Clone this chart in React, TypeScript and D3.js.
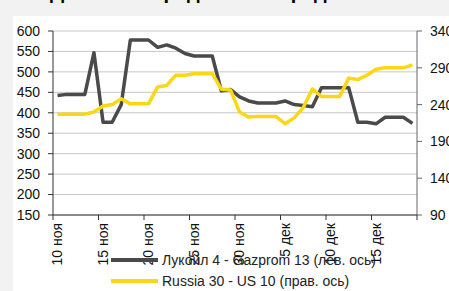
import { line, range, scaleBand, scaleLinear } from 'd3';

const width = 449;
const height = 291;
const plot = { left: 53, right: 417, top: 31, bottom: 215 };

// daily points, 10 ноя .. 19 дек
const lukoilGazprom = [
	442, 445, 445, 445, 547, 377, 377, 420, 578, 578, 578, 560, 566, 558, 545,
	539, 539, 539, 454, 457, 439, 429, 424, 424, 424, 429, 420, 418, 415, 461,
	461, 461, 461, 377, 377, 373, 389, 389, 389, 374,
];
const russiaUs = [
	227, 227, 227, 227, 230, 238, 240, 248, 241, 241, 241, 264, 266, 280, 280,
	282, 282, 282, 261, 260, 230, 223, 224, 224, 224, 214, 222, 236, 261, 251,
	251, 251, 276, 274, 280, 288, 290, 290, 290, 294,
];
const tickLabels = [
	'10 ноя', '15 ноя', '20 ноя', '25 ноя', '30 ноя', '5 дек', '10 дек', '15 дек',
];
const leftTicks = [150, 200, 250, 300, 350, 400, 450, 500, 550, 600];
const rightTicks = [90, 140, 190, 240, 290, 340];
const seriesNames = ['Лукойл 4 - Gazprom 13 (лев. ось)', 'Russia 30 - US 10 (прав. ось)'];

const font = '"Liberation Sans", Arial, sans-serif';
const grayColor = '#4a4a4a';
const yellowColor = '#fcd716';

const App = () => {
	const idx = range(lukoilGazprom.length);
	const xScale = scaleBand<number>().domain(idx).range([plot.left, plot.right]);
	const bw = xScale.bandwidth();
	const xc = (i: number) => (xScale(i) as number) + bw / 2;
	const yLeft = scaleLinear().domain([150, 600]).range([plot.bottom, plot.top]);
	const yRight = scaleLinear().domain([90, 340]).range([plot.bottom, plot.top]);

	const grayPath = line<number>()
		.x((_, i) => xc(i))
		.y(d => yLeft(d))(lukoilGazprom) || '';
	const yellowPath = line<number>()
		.x((_, i) => xc(i))
		.y(d => yRight(d))(russiaUs) || '';

	const tickIdx = tickLabels.map((_, k) => k * 5);

	return (
		<svg
			width={width}
			height={height}
			style={{ position: 'absolute', left: 0, top: 0 }}
			fontFamily={font}
		>
			<rect width={width} height={height} fill="#f2f2f2" />
			<rect x={13} y={16} width={width - 13} height={height - 16} fill="#fff" />
			<text x={50} y={-1} fontSize={20} fontWeight="bold" fill="#000">
				Динамика кредитных спредов
			</text>

			{/* grid */}
			{leftTicks.map(t => (
				<line
					key={t}
					x1={plot.left}
					x2={plot.right}
					y1={yLeft(t)}
					y2={yLeft(t)}
					stroke="#c6c6c6"
				/>
			))}

			{/* left axis */}
			<line x1={plot.left} x2={plot.left} y1={plot.top} y2={plot.bottom} stroke="#333" />
			{leftTicks.map(t => (
				<g key={t} transform={`translate(0,${yLeft(t)})`}>
					<line x1={plot.left - 5} x2={plot.left} stroke="#333" />
					<text x={40} dy=".35em" textAnchor="end" fontSize={14} fill="#111">
						{t}
					</text>
				</g>
			))}

			{/* right axis */}
			<line x1={plot.right} x2={plot.right} y1={plot.top} y2={plot.bottom} stroke="#666" />
			{rightTicks.map(t => (
				<g key={t} transform={`translate(0,${yRight(t)})`}>
					<line x1={plot.right} x2={plot.right + 5} stroke="#666" />
					<text x={430} dy=".35em" fontSize={14} fill="#111">
						{t}
					</text>
				</g>
			))}

			{/* bottom axis */}
			<line x1={plot.left} x2={plot.right} y1={plot.bottom} y2={plot.bottom} stroke="#333" />
			{[...tickIdx, idx.length].map(i => {
				const x = i < idx.length ? (xScale(i) as number) : plot.right;
				return (
					<line key={i} x1={x} x2={x} y1={plot.bottom} y2={plot.bottom + 5} stroke="#333" />
				);
			})}
			{tickLabels.map((lab, k) => (
				<text
					key={lab}
					transform={`translate(${xc(tickIdx[k])},223) rotate(-90)`}
					textAnchor="end"
					dy=".35em"
					fontSize={14}
					fill="#111"
				>
					{lab}
				</text>
			))}

			{/* series */}
			<path d={grayPath} fill="none" stroke={grayColor} strokeWidth={3.5} strokeLinejoin="round" />
			<path d={yellowPath} fill="none" stroke={yellowColor} strokeWidth={3.5} strokeLinejoin="round" />

			{/* legend */}
			{seriesNames.map((name, k) => (
				<g key={name} transform={`translate(0,${260 + k * 21})`}>
					<line x1={111} x2={158} stroke={k === 0 ? grayColor : yellowColor} strokeWidth={4} />
					<text x={162} dy=".35em" fontSize={14} fill="#222">
						{name}
					</text>
				</g>
			))}
		</svg>
	);
};

export default App;
